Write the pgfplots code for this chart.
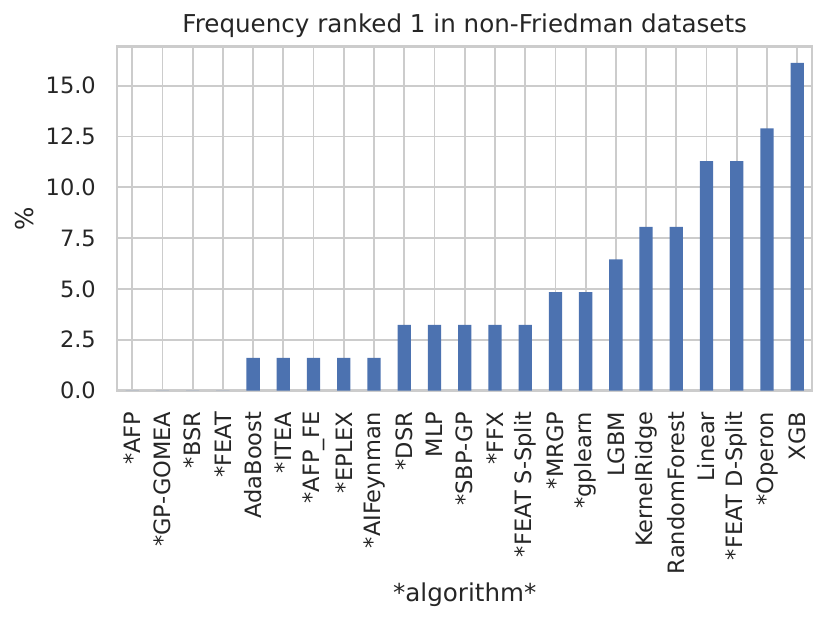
\documentclass[border=0pt]{standalone}
\usepackage{fontspec}
\setmainfont{DejaVu Sans}
\usepackage{pgfplots}
\pgfplotsset{compat=1.18}
\definecolor{barc}{HTML}{4C72B0}
\definecolor{gridc}{HTML}{CCCCCC}
\definecolor{txt}{HTML}{262626}
\begin{document}
\begin{tikzpicture}
\path[use as bounding box] (0,0) rectangle (460.8pt,345.6pt);
\begin{axis}[
  at={(65pt,128.8pt)}, anchor=south west,
  scale only axis, width=386pt, height=191pt,
  ybar, bar width=0.44,
  xmin=-0.5, xmax=22.5, ymin=0, ymax=16.935,
  xtick={0,1,2,3,4,5,6,7,8,9,10,11,12,13,14,15,16,17,18,19,20,21,22},
  xticklabels={*AFP,*GP-GOMEA,*BSR,*FEAT,AdaBoost,*ITEA,*AFP\_FE,*EPLEX,*AIFeynman,*DSR,MLP,*SBP-GP,*FFX,*FEAT S-Split,*MRGP,*gplearn,LGBM,KernelRidge,RandomForest,Linear,*FEAT D-Split,*Operon,XGB},
  ytick={0,2.5,5,7.5,10,12.5,15},
  /pgf/number format/fixed,
  /pgf/number format/fixed zerofill,
  /pgf/number format/precision=1,
  /pgf/number format/assume math mode=true,
  major tick length=0pt,
  tick style={draw=none},
  xmajorgrids, ymajorgrids,
  major grid style={gridc, line width=1pt},
  axis line style={gridc, line width=1.25pt},
  xticklabel style={rotate=90, anchor=east, inner sep=0pt, font=\fontsize{12.5}{15}\selectfont, text=txt},
  yticklabel style={anchor=east, inner sep=0pt, font=\fontsize{12.5}{15}\selectfont, text=txt},
  xticklabel shift=11.6pt,
  yticklabel shift=11.6pt,
  title={Frequency ranked 1 in non-Friedman datasets},
  title style={at={(axis description cs:0.5,1)}, anchor=base, yshift=1.6pt, inner sep=0pt, font=\fontsize{13.65}{16}\selectfont, text=txt},
  xlabel={*algorithm*},
  xlabel style={at={(axis description cs:0.5,0)}, anchor=center, yshift=-113.4pt, font=\fontsize{13.65}{16}\selectfont, text=txt},
  ylabel={\%},
  ylabel style={at={(axis description cs:-0.1326,0.5)}, anchor=center, font=\fontsize{13.65}{16}\selectfont, text=txt},
]
\addplot[fill=barc, draw=none] coordinates {
(0,0) (1,0) (2,0) (3,0) (4,1.61) (5,1.61) (6,1.61) (7,1.61) (8,1.61)
(9,3.23) (10,3.23) (11,3.23) (12,3.23) (13,3.23) (14,4.84) (15,4.84)
(16,6.45) (17,8.06) (18,8.06) (19,11.29) (20,11.29) (21,12.90) (22,16.13)
};
\end{axis}
\end{tikzpicture}
\end{document}
